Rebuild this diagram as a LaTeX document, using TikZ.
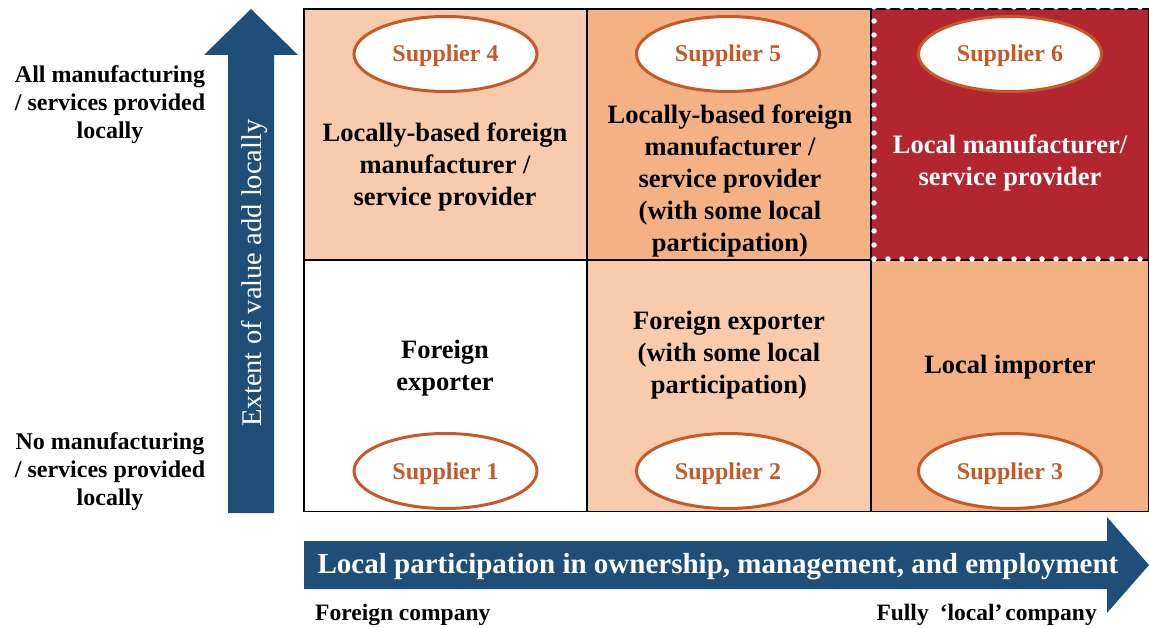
\documentclass[tikz,border=0pt]{standalone}
\usepackage{fontspec}
\setmainfont{Liberation Serif}
\usetikzlibrary{shapes.geometric}
\definecolor{arrowblue}{HTML}{1F4E79}
\definecolor{peachL}{HTML}{F8CBAD}
\definecolor{peachD}{HTML}{F4B183}
\definecolor{cellred}{HTML}{B4262F}
\definecolor{supbrown}{HTML}{C55A28}
\begin{document}
\begin{tikzpicture}[x=1pt,y=-1pt,
  cellbox/.style={draw=black, line width=1.2pt, inner sep=0pt, minimum height=251pt},
  celltext/.style={align=center, font=\fontsize{26.5}{32}\selectfont\bfseries, inner sep=0pt},
  supplier/.style={ellipse, draw=supbrown, line width=3pt, fill=white, text=supbrown,
    minimum width=183pt, minimum height=75pt, inner sep=0pt,
    font=\fontsize{24}{28}\selectfont\bfseries},
  suptext/.style={text=supbrown, inner sep=0pt, font=\fontsize{24}{28}\selectfont\bfseries},
  sidelabel/.style={align=center, font=\fontsize{24}{28}\selectfont\bfseries, inner sep=0pt},
  botlabel/.style={font=\fontsize{23.5}{28}\selectfont\bfseries, inner sep=0pt}]
\useasboundingbox (0,0) rectangle (1149,628);
% cells
\node[cellbox, fill=peachL, minimum width=283pt] (c4) at (445.5,134.5) {};
\node[cellbox, fill=peachD, minimum width=284pt] (c5) at (729,134.5) {};
\node[cellbox, fill=cellred, minimum width=278pt] (c6) at (1010,134.5) {};
\node[cellbox, fill=white, minimum width=283pt] (c1) at (445.5,386) {};
\node[cellbox, fill=peachL, minimum width=284pt] (c2) at (729,386) {};
\node[cellbox, fill=peachD, minimum width=278pt] (c3) at (1010,386) {};
% dotted white border of cell 6
\draw[white, line width=5.5pt, line cap=round, dash pattern=on 0pt off 14pt]
  (874,7) -- (1149,7) (874,7) -- (874,259) -- (1149,259);
% suppliers
\node[supplier] (s4) at (445.5,54) {};
\node[supplier] (s5) at (728,54) {};
\node[supplier] (s6) at (1010,54) {};
\node[supplier] (s1) at (445.5,471) {};
\node[supplier] (s2) at (728,471) {};
\node[supplier] (s3) at (1010,471) {};
\node[suptext, anchor=base] (l4) at ([yshift=-8pt]s4.center) {Supplier 4};
\node[suptext, anchor=base] (l5) at ([yshift=-8pt]s5.center) {Supplier 5};
\node[suptext, anchor=base] (l6) at ([yshift=-8pt]s6.center) {Supplier 6};
\node[suptext, anchor=base] (l1) at ([yshift=-8pt]s1.center) {Supplier 1};
\node[suptext, anchor=base] (l2) at ([yshift=-8pt]s2.center) {Supplier 2};
\node[suptext, anchor=base] (l3) at ([yshift=-8pt]s3.center) {Supplier 3};
% cell texts
\node[celltext] (t4) at (445,167) {Locally-based foreign\\manufacturer /\\service provider};
\node[celltext] (t5) at (730,181) {Locally-based foreign\\manufacturer /\\service provider\\(with some local\\participation)};
\node[celltext, text=white] (t6) at (1010,163) {Local manufacturer/\\service provider};
\node[celltext] (t1) at (445,368) {Foreign\\exporter};
\node[celltext] (t2) at (729,355) {Foreign exporter\\(with some local\\participation)};
\node[celltext] (t3) at (1010,367) {Local importer};
% vertical arrow
\fill[arrowblue] (228,513) -- (228,55) -- (204,55) -- (251,9) -- (298,55) -- (274,55) -- (274,513) -- cycle;
\node[rotate=90, text=white, font=\fontsize{28.5}{32}\selectfont, inner sep=0pt] (vlab) at (255,273) {Extent of value add locally};
% horizontal arrow
\fill[arrowblue] (304,541) -- (1107,541) -- (1107,517) -- (1149,565) -- (1107,613) -- (1107,589) -- (304,589) -- cycle;
\node[text=white, font=\fontsize{29}{32}\selectfont\bfseries, inner sep=0pt] (hlab) at (718,567) {Local participation in ownership, management, and employment};
% side labels
\node[sidelabel] (top) at (110,105) {All manufacturing\\/ services provided\\locally};
\node[sidelabel] (bot) at (110,472) {No manufacturing\\/ services provided\\locally};
% bottom labels
\node[botlabel, anchor=west] (fc) at (315,615) {Foreign company};
\node[botlabel, anchor=east] (lc) at (1097,615) {Fully\hspace{11pt}‘local’\hspace{3pt}company};
\end{tikzpicture}
\end{document}
